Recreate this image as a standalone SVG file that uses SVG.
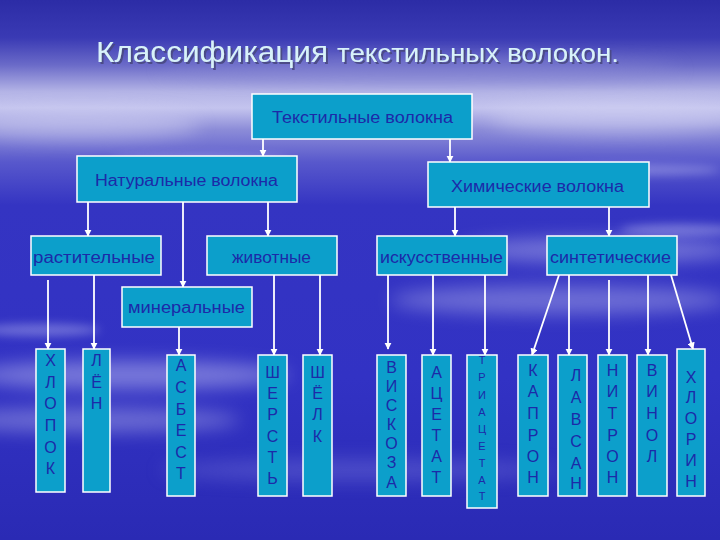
<svg xmlns="http://www.w3.org/2000/svg" width="720" height="540" viewBox="0 0 720 540">
<defs>
<linearGradient id="bg" x1="0" y1="0" x2="0" y2="1">
<stop offset="0" stop-color="#2c2ca6"/>
<stop offset="0.07" stop-color="#3a3ab4"/>
<stop offset="0.12" stop-color="#6a6ac8"/>
<stop offset="0.17" stop-color="#b4b4e6"/>
<stop offset="0.2" stop-color="#c4c4ee"/>
<stop offset="0.24" stop-color="#8c8cd8"/>
<stop offset="0.3" stop-color="#5858cc"/>
<stop offset="0.38" stop-color="#3434c2"/>
<stop offset="0.7" stop-color="#3232c4"/>
<stop offset="1" stop-color="#2a2ab4"/>
</linearGradient>
<filter id="blur" x="-50%" y="-50%" width="200%" height="200%"><feGaussianBlur stdDeviation="9"/></filter>
<filter id="blur2" x="-50%" y="-50%" width="200%" height="200%"><feGaussianBlur stdDeviation="5"/></filter>
<filter id="shadow" x="-10%" y="-30%" width="120%" height="160%"><feDropShadow dx="2" dy="2" stdDeviation="0.6" flood-color="#4a4a80" flood-opacity="0.9"/></filter>
<marker id="ah" viewBox="0 0 10 10" refX="9" refY="5" markerWidth="4" markerHeight="4" orient="auto" markerUnits="strokeWidth">
<path d="M0,0 L10,5 L0,10 z" fill="#ffffff"/>
</marker>
<style>
.box{fill:#0c9fcb;stroke:#ffffff;stroke-width:1.5}
.lbl{font-family:"Liberation Sans",Arial,sans-serif;font-size:16px;fill:#1c2aa8}
.v{font-family:"Liberation Sans",Arial,sans-serif;font-size:16px;fill:#1c2aa8;text-anchor:middle}
.vs{font-family:"Liberation Sans",Arial,sans-serif;font-size:11px;fill:#1c2aa8;text-anchor:middle}
.ar{stroke:#ffffff;stroke-width:1.8;fill:none;marker-end:url(#ah)}
.title{font-family:"Liberation Sans",Arial,sans-serif;fill:#d8f2fa;filter:url(#shadow)}
</style>
</defs>

<!-- background -->
<rect width="720" height="540" fill="url(#bg)"/>
<g opacity="0.5" filter="url(#blur)">
<ellipse cx="80" cy="125" rx="120" ry="14" fill="#d6d6f4"/>
<ellipse cx="620" cy="118" rx="130" ry="16" fill="#d6d6f4"/>
<ellipse cx="600" cy="250" rx="140" ry="12" fill="#b8b8ee"/>
<ellipse cx="560" cy="300" rx="170" ry="14" fill="#a8a8e8"/>
<ellipse cx="130" cy="375" rx="160" ry="14" fill="#c0c0f0"/>
<ellipse cx="90" cy="420" rx="150" ry="12" fill="#a8a8e8"/>
<ellipse cx="360" cy="470" rx="200" ry="10" fill="#7070d8"/>
<ellipse cx="420" cy="70" rx="260" ry="10" fill="#8888d4"/>
</g>
<g opacity="0.35" filter="url(#blur2)">
<ellipse cx="200" cy="160" rx="90" ry="5" fill="#e0e0ff"/>
<ellipse cx="640" cy="170" rx="80" ry="5" fill="#e0e0ff"/>
<ellipse cx="680" cy="230" rx="60" ry="6" fill="#e8e8ff"/>
<ellipse cx="40" cy="330" rx="60" ry="6" fill="#e0e0ff"/>
</g>

<!-- title -->
<g id="title">
<text class="title" x="96" y="62" font-size="30" textLength="232" lengthAdjust="spacingAndGlyphs">Классификация</text>
<text class="title" x="337" y="62" font-size="25" textLength="282" lengthAdjust="spacingAndGlyphs">текстильных волокон.</text>
</g>

<!-- connectors -->
<g id="connectors">
<line class="ar" x1="263" y1="139" x2="263" y2="156"/>
<line class="ar" x1="450" y1="139" x2="450" y2="162"/>
<line class="ar" x1="88" y1="202" x2="88" y2="236"/>
<line class="ar" x1="183" y1="202" x2="183" y2="287"/>
<line class="ar" x1="268" y1="202" x2="268" y2="236"/>
<line class="ar" x1="455" y1="207" x2="455" y2="236"/>
<line class="ar" x1="609" y1="207" x2="609" y2="236"/>
<line class="ar" x1="48" y1="280" x2="48" y2="349"/>
<line class="ar" x1="94" y1="275" x2="94" y2="349"/>
<line class="ar" x1="179" y1="327" x2="179" y2="355"/>
<line class="ar" x1="274" y1="275" x2="274" y2="355"/>
<line class="ar" x1="320" y1="275" x2="320" y2="355"/>
<line class="ar" x1="388" y1="275" x2="388" y2="349"/>
<line class="ar" x1="433" y1="275" x2="433" y2="355"/>
<line class="ar" x1="485" y1="275" x2="485" y2="355"/>
<line class="ar" x1="559" y1="275" x2="532" y2="355"/>
<line class="ar" x1="569" y1="275" x2="569" y2="355"/>
<line class="ar" x1="609" y1="280" x2="609" y2="355"/>
<line class="ar" x1="648" y1="275" x2="648" y2="355"/>
<line class="ar" x1="671" y1="275" x2="693" y2="349"/>
</g>

<!-- top level -->
<g id="n-textile">
<rect class="box" x="252" y="94" width="220" height="45"/>
<text class="lbl" x="272" y="123" textLength="181" lengthAdjust="spacingAndGlyphs">Текстильные волокна</text>
</g>
<g id="n-natural">
<rect class="box" x="77" y="156" width="220" height="46"/>
<text class="lbl" x="95" y="186" textLength="183" lengthAdjust="spacingAndGlyphs">Натуральные волокна</text>
</g>
<g id="n-chemical">
<rect class="box" x="428" y="162" width="221" height="45"/>
<text class="lbl" x="451" y="192" textLength="173" lengthAdjust="spacingAndGlyphs">Химические волокна</text>
</g>

<g id="n-plant">
<rect class="box" x="31" y="236" width="130" height="39"/>
<text class="lbl" x="33" y="263" textLength="122" lengthAdjust="spacingAndGlyphs">растительные</text>
</g>
<g id="n-animal">
<rect class="box" x="207" y="236" width="130" height="39"/>
<text class="lbl" x="232" y="263" textLength="79" lengthAdjust="spacingAndGlyphs">животные</text>
</g>
<g id="n-artificial">
<rect class="box" x="377" y="236" width="130" height="39"/>
<text class="lbl" x="380" y="263" textLength="123" lengthAdjust="spacingAndGlyphs">искусственные</text>
</g>
<g id="n-synthetic">
<rect class="box" x="547" y="236" width="130" height="39"/>
<text class="lbl" x="550" y="263" textLength="121" lengthAdjust="spacingAndGlyphs">синтетические</text>
</g>
<g id="n-mineral">
<rect class="box" x="122" y="287" width="130" height="40"/>
<text class="lbl" x="128" y="313" textLength="117" lengthAdjust="spacingAndGlyphs">минеральные</text>
</g>

<!-- bottom columns -->
<g id="n-khlopok">
<rect class="box" x="36" y="349" width="29" height="143"/>
<text class="v"><tspan x="50.5" y="366">Х</tspan><tspan x="50.5" y="388">Л</tspan><tspan x="50.5" y="409">О</tspan><tspan x="50.5" y="431">П</tspan><tspan x="50.5" y="453">О</tspan><tspan x="50.5" y="474">К</tspan></text>
</g>
<g id="n-len">
<rect class="box" x="83" y="349" width="27" height="143"/>
<text class="v"><tspan x="96.5" y="366">Л</tspan><tspan x="96.5" y="388">Ё</tspan><tspan x="96.5" y="409">Н</tspan></text>
</g>
<g id="n-asbest">
<rect class="box" x="167" y="355" width="28" height="141"/>
<text class="v"><tspan x="181" y="371">А</tspan><tspan x="181" y="393">С</tspan><tspan x="181" y="415">Б</tspan><tspan x="181" y="436">Е</tspan><tspan x="181" y="458">С</tspan><tspan x="181" y="479">Т</tspan></text>
</g>
<g id="n-sherst">
<rect class="box" x="258" y="355" width="29" height="141"/>
<text class="v"><tspan x="272.5" y="378">Ш</tspan><tspan x="272.5" y="399">Е</tspan><tspan x="272.5" y="420">Р</tspan><tspan x="272.5" y="442">С</tspan><tspan x="272.5" y="463">Т</tspan><tspan x="272.5" y="484">Ь</tspan></text>
</g>
<g id="n-shelk">
<rect class="box" x="303" y="355" width="29" height="141"/>
<text class="v"><tspan x="317.5" y="378">Ш</tspan><tspan x="317.5" y="399">Ё</tspan><tspan x="317.5" y="420">Л</tspan><tspan x="317.5" y="442">К</tspan></text>
</g>
<g id="n-viskoza">
<rect class="box" x="377" y="355" width="29" height="141"/>
<text class="v"><tspan x="391.5" y="373">В</tspan><tspan x="391.5" y="392">И</tspan><tspan x="391.5" y="411">С</tspan><tspan x="391.5" y="430">К</tspan><tspan x="391.5" y="449">О</tspan><tspan x="391.5" y="468">З</tspan><tspan x="391.5" y="488">А</tspan></text>
</g>
<g id="n-acetat">
<rect class="box" x="422" y="355" width="29" height="141"/>
<text class="v"><tspan x="436.5" y="378">А</tspan><tspan x="436.5" y="399">Ц</tspan><tspan x="436.5" y="420">Е</tspan><tspan x="436.5" y="441">Т</tspan><tspan x="436.5" y="462">А</tspan><tspan x="436.5" y="483">Т</tspan></text>
</g>
<g id="n-triacetat">
<rect class="box" x="467" y="355" width="30" height="153"/>
<text class="vs"><tspan x="482" y="364">Т</tspan><tspan x="482" y="381">Р</tspan><tspan x="482" y="399">И</tspan><tspan x="482" y="416">А</tspan><tspan x="482" y="433">Ц</tspan><tspan x="482" y="450">Е</tspan><tspan x="482" y="467">Т</tspan><tspan x="482" y="484">А</tspan><tspan x="482" y="500">Т</tspan></text>
</g>
<g id="n-kapron">
<rect class="box" x="518" y="355" width="30" height="141"/>
<text class="v"><tspan x="533" y="376">К</tspan><tspan x="533" y="397">А</tspan><tspan x="533" y="419">П</tspan><tspan x="533" y="441">Р</tspan><tspan x="533" y="462">О</tspan><tspan x="533" y="483">Н</tspan></text>
</g>
<g id="n-lavsan">
<rect class="box" x="558" y="355" width="29" height="141"/>
<text class="v"><tspan x="576" y="381">Л</tspan><tspan x="576" y="403">А</tspan><tspan x="576" y="425">В</tspan><tspan x="576" y="447">С</tspan><tspan x="576" y="469">А</tspan><tspan x="576" y="489">Н</tspan></text>
</g>
<g id="n-nitron">
<rect class="box" x="598" y="355" width="29" height="141"/>
<text class="v"><tspan x="612.5" y="376">Н</tspan><tspan x="612.5" y="397">И</tspan><tspan x="612.5" y="419">Т</tspan><tspan x="612.5" y="441">Р</tspan><tspan x="612.5" y="462">О</tspan><tspan x="612.5" y="483">Н</tspan></text>
</g>
<g id="n-vinol">
<rect class="box" x="637" y="355" width="30" height="141"/>
<text class="v"><tspan x="652" y="376">В</tspan><tspan x="652" y="397">И</tspan><tspan x="652" y="419">Н</tspan><tspan x="652" y="441">О</tspan><tspan x="652" y="462">Л</tspan></text>
</g>
<g id="n-khlorin">
<rect class="box" x="677" y="349" width="28" height="147"/>
<text class="v"><tspan x="691" y="383">Х</tspan><tspan x="691" y="403">Л</tspan><tspan x="691" y="424">О</tspan><tspan x="691" y="445">Р</tspan><tspan x="691" y="466">И</tspan><tspan x="691" y="487">Н</tspan></text>
</g>
</svg>
